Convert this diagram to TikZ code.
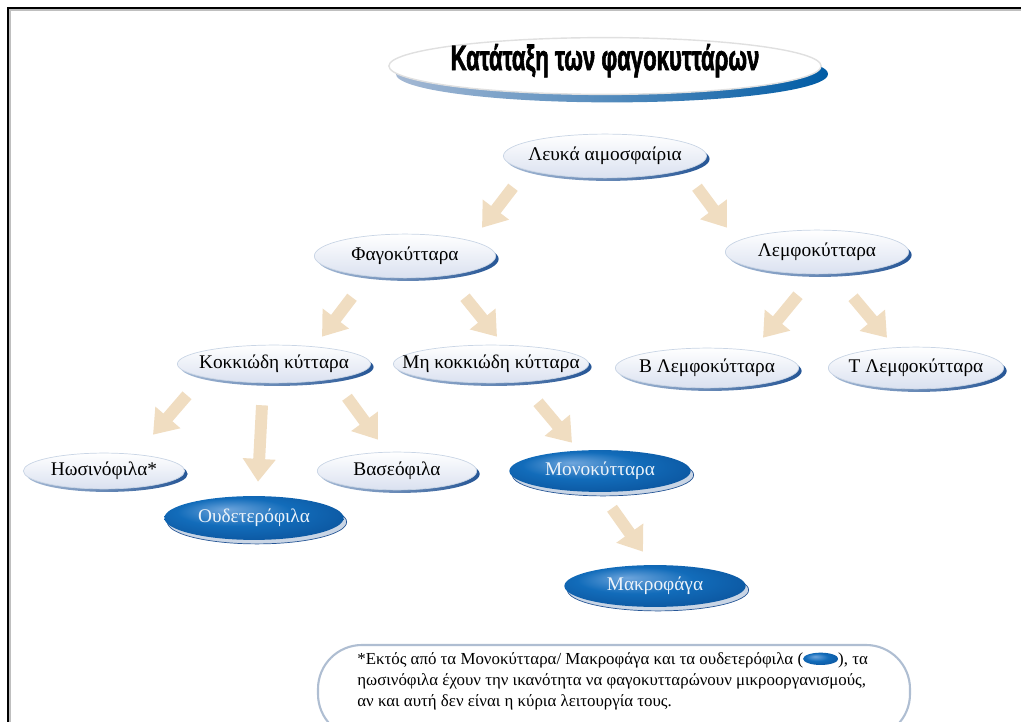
\documentclass[tikz,border=0pt]{standalone}
\usepackage{fontspec}
\setmainfont{Liberation Serif}
\newfontfamily\titlefont[BoldFeatures={FakeBold=2.5}]{Liberation Sans}
\usetikzlibrary{shapes.geometric,arrows.meta}
\definecolor{sand}{RGB}{240, 221, 193}
\definecolor{rimblue}{RGB}{38, 86, 150}
\definecolor{rimlight}{RGB}{165, 185, 212}
\definecolor{cellbottom}{RGB}{218, 225, 240}
\definecolor{navy}{RGB}{0, 45, 110}
\definecolor{midblue}{RGB}{18, 108, 186}
\definecolor{glowblue}{RGB}{110, 165, 220}
\definecolor{paleblue}{RGB}{236, 243, 250}
\definecolor{notegray}{RGB}{175, 190, 210}
\definecolor{titleblue}{RGB}{0, 92, 165}
\pgfdeclareradialshading{cellglow}{\pgfpoint{-8bp}{10bp}}{color(0bp)=(glowblue); color(16bp)=(midblue); color(34bp)=(midblue!60!navy); color(46bp)=(navy); color(50bp)=(navy)}

\begin{document}
\begin{tikzpicture}[x=0.02cm, y=-0.02cm,
        ovalsize/.style 2 args={minimum width=#1*0.5669pt, minimum height=#2*0.5669pt},
        cell/.style={ellipse, inner sep=0pt, top color=white, bottom color=cellbottom,
            draw=rimlight!60, line width=0.4pt,
            label={[font=\fontsize{11}{13}\selectfont]center:#1},
            preaction={left color=rimlight, right color=rimblue, transform canvas={shift={(3,3)}}}},
        bluecell/.style={ellipse, inner sep=0pt, shading=cellglow,
            label={[text=paleblue, font=\fontsize{11}{13}\selectfont]center:#1},
            preaction={fill=rimlight!60, draw=rimblue, thin, transform canvas={shift={(3,4)}}}},
        flow/.style={sand, line width=6.8pt, -{Triangle[width=18pt, length=13pt]}}]
    \useasboundingbox (0, 0) rectangle (1021, 722);
    \clip (0, 0) rectangle (1021, 722);
    % Frame
    \draw[line width=1.2pt]                 (8, 722) -- (8, 8) -- (1021, 8);
    \draw[gray!50, line width=0.6pt]        (10, 722) -- (10, 10) -- (1021, 10);
    % Title
    \node[ellipse, ovalsize={434}{57}, inner sep=0pt, fill=white, draw=black!12, line width=0.8pt,
          label={[font=\titlefont\bfseries\fontsize{20}{22}\selectfont, yshift=3pt]center:\scalebox{0.63}[1]{Κατάταξη των φαγοκυττάρων}},
          preaction={left color=rimlight, right color=titleblue, transform canvas={shift={(7,8)}}}]
          (title) at (605, 66) {};
    % Level 1 and 2
    \node[cell=Λευκά αιμοσφαίρια,   ovalsize={204}{44}] (leuka)  at (605, 156) {};
    \node[cell=Φαγοκύτταρα,         ovalsize={182}{44}] (fago)   at (405, 256) {};
    \node[cell=Λεμφοκύτταρα,        ovalsize={184}{44}] (lemfo)  at (817, 252) {};
    % Level 3
    \node[cell=Κοκκιώδη κύτταρα,    ovalsize={194}{38}] (kokk)   at (274, 364) {};
    \node[cell=Μη κοκκιώδη κύτταρα, ovalsize={196}{38}] (mikokk) at (491, 364) {};
    \node[cell=Β Λεμφοκύτταρα,      ovalsize={184}{40}] (blymf)  at (707, 368) {};
    \node[cell=Τ Λεμφοκύτταρα,      ovalsize={176}{42}] (tlymf)  at (916, 368) {};
    % Level 4 and 5
    \node[cell=Ηωσινόφιλα*,         ovalsize={162}{36}] (iosin)  at (104, 471) {};
    \node[cell=Βασεόφιλα,           ovalsize={160}{38}] (vaseo)  at (397, 471) {};
    \node[bluecell=Ουδετερόφιλα,    ovalsize={180}{44}] (oudet)  at (254, 518) {};
    \node[bluecell=Μονοκύτταρα,     ovalsize={182}{42}] (mono)   at (600, 471) {};
    \node[bluecell=Μακροφάγα,       ovalsize={182}{42}] (makro)  at (655, 586) {};
    % Arrows
    \draw[flow] ([shift={(-92,9)}]leuka.south)  -- ([shift={(77,-6)}]fago.north);
    \draw[flow] ([shift={(92,9)}]leuka.south)   -- ([shift={(-90,-2)}]lemfo.north);
    \draw[flow] ([shift={(-53,19)}]fago.south)  -- ([shift={(48,-8)}]kokk.north);
    \draw[flow] ([shift={(60,19)}]fago.south)   -- ([shift={(6,-8)}]mikokk.north);
    \draw[flow] ([shift={(-19,21)}]lemfo.south) -- ([shift={(56,-10)}]blymf.north);
    \draw[flow] ([shift={(36,23)}]lemfo.south)  -- ([shift={(-29,-9)}]tlymf.north);
    \draw[flow] ([shift={(-87,12)}]kokk.south)  -- ([shift={(49,-18)}]iosin.north);
    \draw[flow] ([shift={(-12,22)}]kokk.south)  -- ([shift={(4,-14)}]oudet.north);
    \draw[flow] ([shift={(73,14)}]kokk.south)   -- ([shift={(-19,-12)}]vaseo.north);
    \draw[flow] ([shift={(47,19)}]mikokk.south) -- ([shift={(-28,-7)}]mono.north);
    \draw[flow] ([shift={(12,16)}]mono.south)   -- ([shift={(-12,-13)}]makro.north);
    % Footnote
    \draw[notegray, line width=1.2pt, fill=white, rounded corners=25pt] (318, 645) rectangle (910, 738);
    \node[anchor=north west, align=left, inner sep=0pt, font=\fontsize{9.6}{12}\selectfont]
          (note) at (357, 652)
          {*Εκτός από τα Μονοκύτταρα/ Μακροφάγα και τα ουδετερόφιλα (\tikz[baseline=-0.7ex] \shade[shading=cellglow] (0,0) ellipse (10pt and 3.5pt);), τα\\
           ηωσινόφιλα έχουν την ικανότητα να φαγοκυτταρώνουν μικροοργανισμούς,\\
           αν και αυτή δεν είναι η κύρια λειτουργία τους.};
\end{tikzpicture}
\end{document}
